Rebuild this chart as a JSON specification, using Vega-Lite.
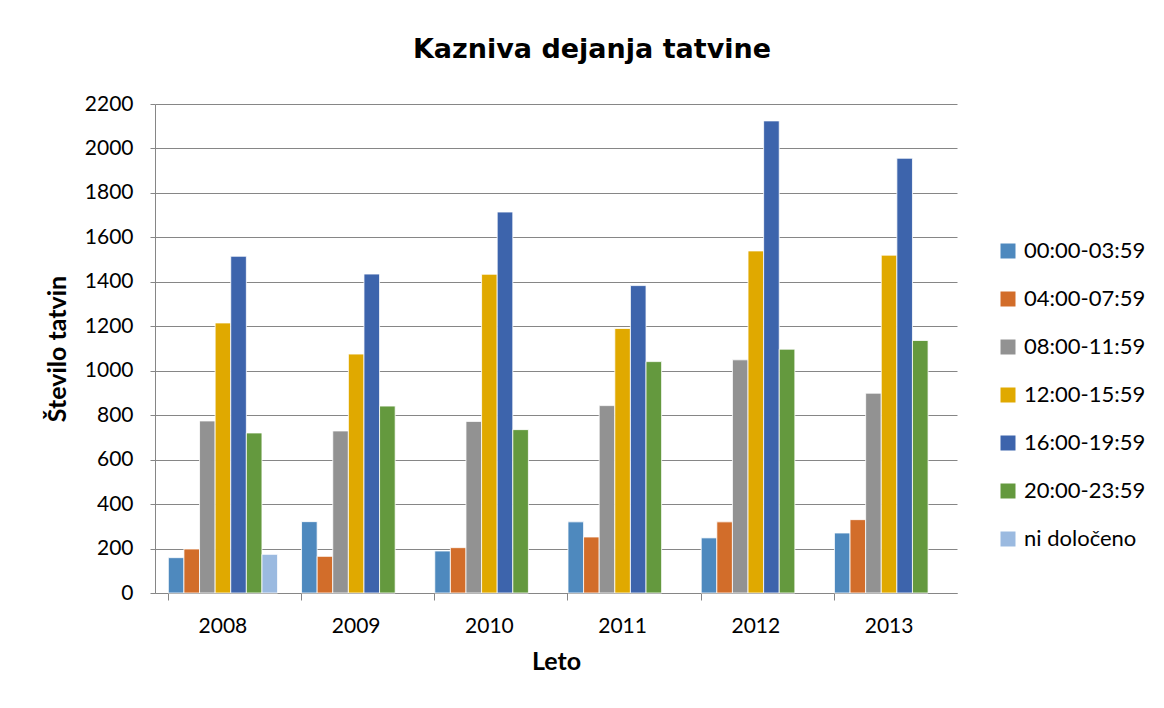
{
  "$schema": "https://vega.github.io/schema/vega-lite/v6.json",
  "autosize": {"type": "none"},
  "width": 802,
  "height": 489,
  "padding": {"left": 155, "top": 104, "right": 207, "bottom": 115},
  "background": "white",
  "title": {"text": "Kazniva dejanja tatvine", "font": "DejaVu Sans", "fontSize": 27, "fontWeight": "bold", "color": "#000000", "anchor": "middle", "frame": "group", "offset": 29, "dx": 36},
  "config": {
    "view": {"stroke": null},
    "font": "Lato"
  },
  "data": {"values": [
    {"leto": "2008", "cas": "00:00-03:59", "st": 159},
    {"leto": "2008", "cas": "04:00-07:59", "st": 198},
    {"leto": "2008", "cas": "08:00-11:59", "st": 774},
    {"leto": "2008", "cas": "12:00-15:59", "st": 1215},
    {"leto": "2008", "cas": "16:00-19:59", "st": 1515},
    {"leto": "2008", "cas": "20:00-23:59", "st": 720},
    {"leto": "2008", "cas": "ni določeno", "st": 174},
    {"leto": "2009", "cas": "00:00-03:59", "st": 321},
    {"leto": "2009", "cas": "04:00-07:59", "st": 165},
    {"leto": "2009", "cas": "08:00-11:59", "st": 729},
    {"leto": "2009", "cas": "12:00-15:59", "st": 1075},
    {"leto": "2009", "cas": "16:00-19:59", "st": 1435},
    {"leto": "2009", "cas": "20:00-23:59", "st": 841},
    {"leto": "2010", "cas": "00:00-03:59", "st": 189},
    {"leto": "2010", "cas": "04:00-07:59", "st": 204},
    {"leto": "2010", "cas": "08:00-11:59", "st": 772},
    {"leto": "2010", "cas": "12:00-15:59", "st": 1434},
    {"leto": "2010", "cas": "16:00-19:59", "st": 1714},
    {"leto": "2010", "cas": "20:00-23:59", "st": 735},
    {"leto": "2011", "cas": "00:00-03:59", "st": 320},
    {"leto": "2011", "cas": "04:00-07:59", "st": 252},
    {"leto": "2011", "cas": "08:00-11:59", "st": 843},
    {"leto": "2011", "cas": "12:00-15:59", "st": 1190},
    {"leto": "2011", "cas": "16:00-19:59", "st": 1383},
    {"leto": "2011", "cas": "20:00-23:59", "st": 1041},
    {"leto": "2012", "cas": "00:00-03:59", "st": 248},
    {"leto": "2012", "cas": "04:00-07:59", "st": 320},
    {"leto": "2012", "cas": "08:00-11:59", "st": 1049},
    {"leto": "2012", "cas": "12:00-15:59", "st": 1539},
    {"leto": "2012", "cas": "16:00-19:59", "st": 2124},
    {"leto": "2012", "cas": "20:00-23:59", "st": 1097},
    {"leto": "2013", "cas": "00:00-03:59", "st": 270},
    {"leto": "2013", "cas": "04:00-07:59", "st": 330},
    {"leto": "2013", "cas": "08:00-11:59", "st": 899},
    {"leto": "2013", "cas": "12:00-15:59", "st": 1520},
    {"leto": "2013", "cas": "16:00-19:59", "st": 1956},
    {"leto": "2013", "cas": "20:00-23:59", "st": 1136}
  ]},
  "mark": {"type": "bar", "stroke": "white", "strokeWidth": 0.8},
  "encoding": {
    "x": {
      "field": "leto", "type": "nominal",
      "scale": {"paddingInner": 0.18, "paddingOuter": 0.1},
      "axis": {
        "title": "Leto", "titleFont": "Lato", "titleFontSize": 25, "titleFontWeight": "bold", "titleColor": "#000", "titlePadding": 13,
        "labelAngle": 0, "labelFont": "Lato", "labelFontSize": 21, "labelColor": "#000", "labelPadding": 15,
        "bandPosition": 0, "tickSize": 7, "tickColor": "#868686", "domainColor": "#868686", "grid": false
      }
    },
    "xOffset": {
      "field": "cas", "type": "nominal",
      "scale": {"domain": ["00:00-03:59", "04:00-07:59", "08:00-11:59", "12:00-15:59", "16:00-19:59", "20:00-23:59", "ni določeno"], "paddingInner": 0, "paddingOuter": 0}
    },
    "y": {
      "field": "st", "type": "quantitative",
      "scale": {"domain": [0, 2200], "nice": false},
      "axis": {
        "title": "Število tatvin", "titleFont": "Lato", "titleFontSize": 25, "titleFontWeight": "bold", "titleColor": "#000", "titlePadding": 14,
        "values": [0, 200, 400, 600, 800, 1000, 1200, 1400, 1600, 1800, 2000, 2200],
        "format": "d",
        "labelFont": "Lato", "labelFontSize": 21, "labelColor": "#000", "labelPadding": 17,
        "tickSize": 5, "tickColor": "#868686", "domainColor": "#868686",
        "grid": true, "gridColor": "#868686", "gridWidth": 1
      }
    },
    "color": {
      "field": "cas", "type": "nominal",
      "scale": {
        "domain": ["00:00-03:59", "04:00-07:59", "08:00-11:59", "12:00-15:59", "16:00-19:59", "20:00-23:59", "ni določeno"],
        "range": ["#4E89BE", "#D26D2A", "#929292", "#E0A900", "#3D64AC", "#64993E", "#9BBAE0"]
      },
      "legend": {
        "title": null, "orient": "none", "legendX": 842, "legendY": 136,
        "symbolType": "square", "symbolSize": 225, "symbolStrokeWidth": 0,
        "labelFont": "Lato", "labelFontSize": 22, "labelColor": "#000", "labelOffset": 5,
        "rowPadding": 26
      }
    }
  }
}
